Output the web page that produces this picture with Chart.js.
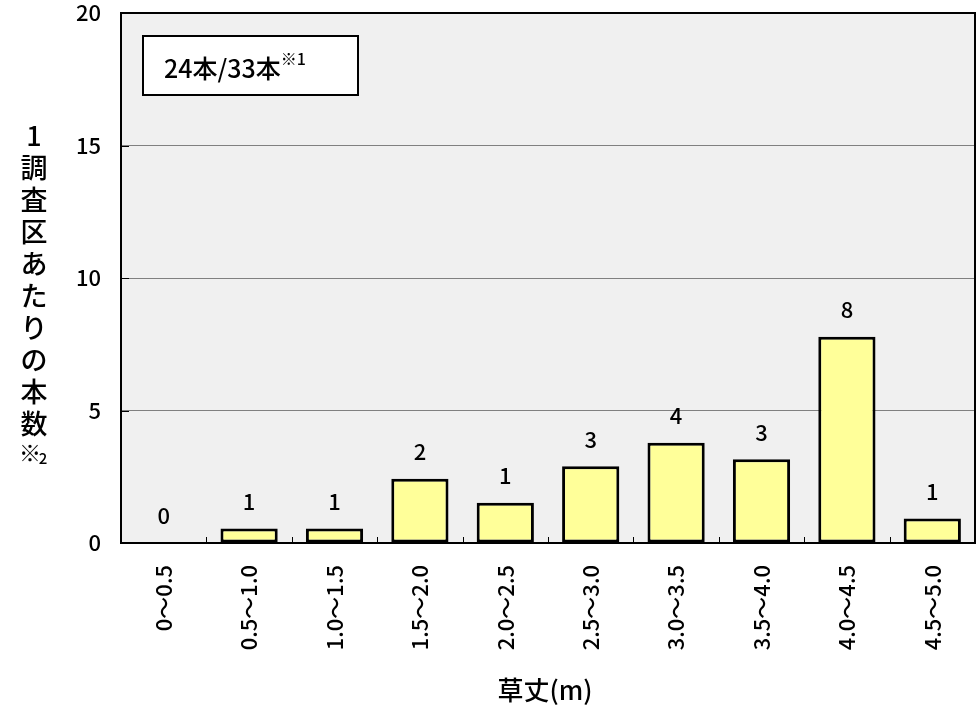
<!DOCTYPE html>
<html lang="ja">
<head>
<meta charset="utf-8">
<script src="https://cdn.jsdelivr.net/npm/chart.js@4.4.1/dist/chart.umd.min.js"></script>
<style>
  html, body { margin: 0; padding: 0; background: #fff; }
</style>
</head>
<body>
<canvas id="grassChart" width="977" height="714"></canvas>
<script>
// 草丈クラスごとの1調査区あたり本数
const heightClasses = ['0～0.5', '0.5～1.0', '1.0～1.5', '1.5～2.0', '2.0～2.5',
                       '2.5～3.0', '3.0～3.5', '3.5～4.0', '4.0～4.5', '4.5～5.0'];
const stemsPerPlot = [0, 0.55, 0.55, 2.42, 1.52, 2.9, 3.78, 3.16, 7.78, 0.92];
const stemCounts = [0, 1, 1, 2, 1, 3, 4, 3, 8, 1];
const yMax = 20;
const yStep = 5;
const yTitleChars = ['1', '調', '査', '区', 'あ', 'た', 'り', 'の', '本', '数'];
const noteText = '24本/33本';

const FONT = "'Noto Sans CJK JP', 'Liberation Sans', sans-serif";
const W = '500 ';

// 背景・枠・注記など
const decor = {
    id: 'decor',
    beforeDraw(chart) {
        const { ctx, chartArea: a } = chart;
        ctx.save();
        ctx.fillStyle = '#f0f0f0';
        ctx.fillRect(a.left, a.top, a.right - a.left, a.bottom - a.top);
        ctx.restore();
    },
    afterDatasetsDraw(chart) {
        const ctx = chart.ctx;
        const meta = chart.getDatasetMeta(0);
        ctx.save();
        ctx.fillStyle = '#000';
        ctx.font = W + '22px ' + FONT;
        ctx.textAlign = 'center';
        ctx.textBaseline = 'middle';
        meta.data.forEach((bar, i) => {
            ctx.fillText(String(stemCounts[i]), bar.x, bar.y - 27);
        });
        ctx.restore();
    },
    afterDraw(chart) {
        const { ctx, chartArea: a, scales } = chart;
        const x = scales.x, y = scales.y;
        ctx.save();

        // 目盛り (内向き)
        ctx.strokeStyle = '#000';
        ctx.lineWidth = 1;
        for (let i = 1; i < heightClasses.length; i++) {
            const px = Math.round((x.getPixelForValue(i - 1) + x.getPixelForValue(i)) / 2) + 0.5;
            ctx.beginPath();
            ctx.moveTo(px, a.bottom);
            ctx.lineTo(px, a.bottom - 6);
            ctx.stroke();
        }
        for (let v = yStep; v < yMax; v += yStep) {
            const py = Math.round(y.getPixelForValue(v)) + 0.5;
            ctx.beginPath();
            ctx.moveTo(a.left, py);
            ctx.lineTo(a.left + 8, py);
            ctx.stroke();
        }

        // 枠
        ctx.lineWidth = 2;
        ctx.strokeRect(a.left, a.top, a.right - a.left, a.bottom - a.top);

        // 凡例ボックス
        ctx.fillStyle = '#fff';
        ctx.fillRect(a.left + 22, a.top + 23, 215, 59);
        ctx.strokeRect(a.left + 22, a.top + 23, 215, 59);
        ctx.fillStyle = '#000';
        ctx.textBaseline = 'alphabetic';
        ctx.textAlign = 'left';
        ctx.font = W + '25px ' + FONT;
        ctx.fillText(noteText, a.left + 43, a.top + 65);
        const w = ctx.measureText(noteText).width;
        ctx.font = W + '16px ' + FONT;
        ctx.fillText('※1', a.left + 43 + w, a.top + 52);

        // 縦軸タイトル (縦書き)
        ctx.textAlign = 'center';
        ctx.textBaseline = 'middle';
        ctx.font = W + '27px ' + FONT;
        const step = 32;
        const cx = 34;
        let cy = (a.top + a.bottom) / 2 + 18 - step * (yTitleChars.length) / 2;
        yTitleChars.forEach(ch => {
            ctx.fillText(ch, cx, cy);
            cy += step;
        });
        ctx.font = W + '22px ' + FONT;
        ctx.fillText('※', cx - 4, cy - 3);
        ctx.font = W + '15px ' + FONT;
        ctx.fillText('2', cx + 9, cy + 2);

        // 横軸タイトル
        ctx.font = W + '26px ' + FONT;
        ctx.fillText('草丈(m)', (a.left + a.right) / 2 - 3, 690);
        ctx.restore();
    }
};

new Chart(document.getElementById('grassChart'), {
    type: 'bar',
    data: {
        labels: heightClasses,
        datasets: [{
            data: stemsPerPlot,
            backgroundColor: '#ffff99',
            borderColor: '#000',
            borderWidth: 3,
            borderSkipped: false,
            barPercentage: 0.67,
            categoryPercentage: 1
        }]
    },
    options: {
        responsive: false,
        animation: false,
        layout: { padding: { top: 13, right: 2, left: 0, bottom: 0 } },
        plugins: { legend: { display: false }, tooltip: { enabled: false } },
        scales: {
            x: {
                afterFit(scale) { scale.height = 171; },
                grid: { display: false },
                border: { display: false },
                ticks: {
                    maxRotation: 90, minRotation: 90, padding: 14,
                    color: '#000', font: { size: 22, family: FONT, weight: '500' }
                }
            },
            y: {
                min: 0, max: yMax,
                afterFit(scale) {
                    scale.width = 121;
                    scale.paddingTop = 0;
                    scale.paddingBottom = 0;
                },
                grid: { color: '#808080', lineWidth: 1, drawTicks: false },
                border: { display: false },
                ticks: {
                    stepSize: yStep, padding: 20,
                    color: '#000', font: { size: 22, family: FONT, weight: '500' }
                }
            }
        }
    },
    plugins: [decor]
});
</script>
</body>
</html>
